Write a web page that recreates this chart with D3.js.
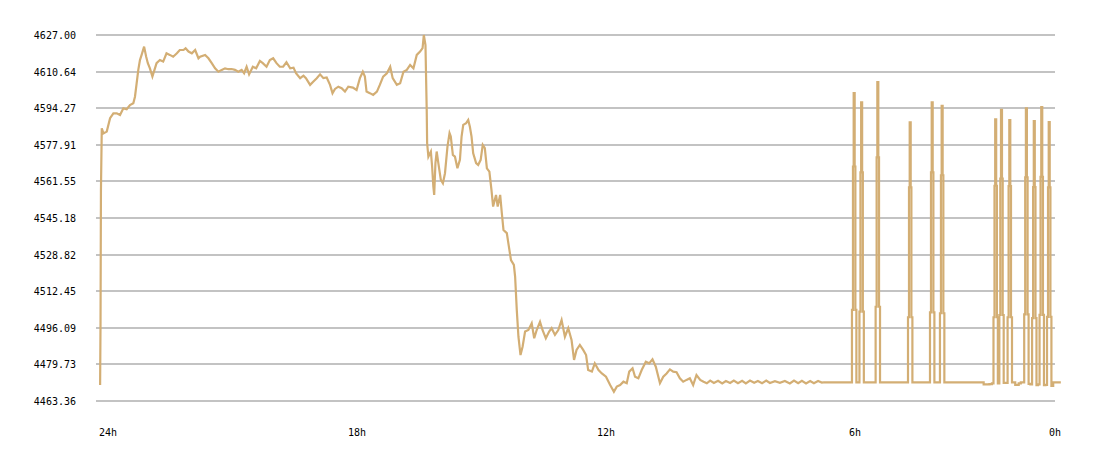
<!DOCTYPE html>
<html>
<head>
  <meta charset="UTF-8">
  <title>24h price</title>
  <script src="https://d3js.org/d3.v7.min.js"></script>
  <style>
    body { margin: 0; background: #fff; }
    text { font-family: "DejaVu Sans Mono", monospace; font-size: 10px; fill: #000; }
  </style>
</head>
<body>
    <svg></svg>

    <script>
        // y ticks as shown on the left
        let yTicks = [4463.36, 4479.73, 4496.09, 4512.45, 4528.82, 4545.18, 4561.55, 4577.91, 4594.27, 4610.64, 4627.00];

        // x ticks: hours ago
        let xTickHours = [24, 18, 12, 6, 0];
        let xTickLabels = ["24h", "18h", "12h", "6h", "0h"];

        // [hours ago, price] - active trading part
        let priceTrace = [
            [24.19, 4470.5], [24.18, 4498.7], [24.17, 4557.7], [24.15, 4585.3], [24.11, 4583.0], [24.03, 4583.8],
            [23.95, 4589.8], [23.87, 4592.0], [23.79, 4592.0], [23.71, 4591.2], [23.63, 4594.2], [23.55, 4593.8],
            [23.47, 4595.7], [23.39, 4596.5], [23.35, 4599.4], [23.31, 4605.4], [23.27, 4611.4], [23.23, 4615.8],
            [23.19, 4618.1], [23.13, 4621.8], [23.08, 4617.3], [23.04, 4614.4], [22.99, 4612.1], [22.93, 4608.4],
            [22.88, 4611.4], [22.83, 4614.4], [22.75, 4615.8], [22.67, 4615.1], [22.59, 4618.8], [22.51, 4618.1],
            [22.43, 4617.3], [22.34, 4618.8], [22.27, 4620.3], [22.18, 4620.3], [22.13, 4621.1], [22.06, 4619.6],
            [21.98, 4618.8], [21.90, 4620.3], [21.82, 4616.6], [21.78, 4617.3], [21.66, 4618.1], [21.58, 4616.6],
            [21.50, 4614.4], [21.42, 4612.1], [21.34, 4610.6], [21.26, 4611.4], [21.18, 4612.1], [21.10, 4611.7],
            [21.02, 4611.8], [20.94, 4611.4], [20.86, 4610.6], [20.78, 4611.4], [20.72, 4609.9], [20.66, 4612.8],
            [20.60, 4609.4], [20.51, 4612.8], [20.43, 4612.1], [20.34, 4615.4], [20.27, 4614.4], [20.18, 4612.8],
            [20.10, 4615.8], [20.02, 4616.6], [19.94, 4614.4], [19.86, 4612.8], [19.78, 4612.8], [19.70, 4614.8],
            [19.61, 4612.1], [19.53, 4612.4], [19.47, 4609.9], [19.37, 4607.7], [19.29, 4608.8], [19.23, 4607.7],
            [19.13, 4604.7], [19.05, 4606.2], [18.97, 4607.7], [18.89, 4609.4], [18.81, 4607.7], [18.73, 4608.0],
            [18.65, 4604.7], [18.59, 4601.0], [18.53, 4602.9], [18.45, 4603.9], [18.37, 4603.2], [18.29, 4601.7],
            [18.21, 4603.9], [18.10, 4603.5], [18.01, 4602.4], [17.93, 4607.7], [17.86, 4610.6], [17.81, 4608.4],
            [17.77, 4601.7], [17.69, 4601.0], [17.61, 4600.2], [17.52, 4601.7], [17.45, 4604.7], [17.37, 4608.4],
            [17.28, 4609.9], [17.20, 4612.8], [17.14, 4607.7], [17.04, 4604.7], [16.96, 4605.4], [16.88, 4610.6],
            [16.80, 4611.4], [16.72, 4613.6], [16.64, 4612.1], [16.56, 4618.1], [16.48, 4619.6], [16.42, 4621.1],
            [16.39, 4627.0], [16.35, 4622.5], [16.335, 4607.7], [16.32, 4593.5], [16.31, 4578.6], [16.28, 4572.6],
            [16.22, 4574.9], [16.19, 4568.2], [16.16, 4559.2], [16.14, 4555.5], [16.11, 4569.7], [16.08, 4574.9],
            [16.04, 4569.7], [15.98, 4562.2], [15.93, 4560.7], [15.88, 4565.2], [15.82, 4577.1], [15.77, 4583.1],
            [15.74, 4581.6], [15.69, 4573.4], [15.64, 4572.6], [15.58, 4567.4], [15.52, 4571.2], [15.48, 4581.6],
            [15.44, 4586.8], [15.37, 4587.6], [15.32, 4589.0], [15.28, 4586.0], [15.24, 4581.6], [15.20, 4574.1],
            [15.13, 4569.7], [15.08, 4568.9], [15.02, 4571.2], [14.97, 4577.9], [14.92, 4576.4], [14.87, 4567.4],
            [14.81, 4565.9], [14.76, 4557.7], [14.72, 4550.3], [14.65, 4555.5], [14.61, 4550.3], [14.55, 4555.5],
            [14.51, 4547.3], [14.47, 4539.8], [14.39, 4538.4], [14.34, 4532.4], [14.29, 4526.4], [14.22, 4524.2],
            [14.19, 4519.0], [14.15, 4504.1], [14.11, 4492.1], [14.06, 4483.9], [14.01, 4487.6], [13.95, 4494.4],
            [13.87, 4495.1], [13.79, 4498.1], [13.73, 4491.4], [13.67, 4495.1], [13.59, 4498.8], [13.53, 4495.1],
            [13.45, 4491.4], [13.37, 4494.4], [13.31, 4495.9], [13.23, 4492.9], [13.15, 4495.1], [13.07, 4499.6],
            [12.99, 4492.1], [12.91, 4495.9], [12.83, 4490.6], [12.77, 4481.7], [12.71, 4486.2], [12.63, 4488.4],
            [12.55, 4486.2], [12.48, 4483.9], [12.43, 4477.2], [12.34, 4476.5], [12.27, 4480.2], [12.18, 4477.2],
            [12.10, 4475.7], [12.00, 4474.2], [11.90, 4470.5], [11.81, 4467.5], [11.74, 4469.8], [11.66, 4470.5],
            [11.58, 4472.0], [11.50, 4471.3], [11.44, 4476.5], [11.36, 4478.0], [11.30, 4474.2], [11.22, 4473.5],
            [11.14, 4477.2], [11.04, 4480.9], [10.96, 4480.2], [10.88, 4482.0], [10.80, 4478.7], [10.70, 4471.3],
            [10.62, 4474.2], [10.54, 4475.7], [10.46, 4477.5], [10.38, 4476.5], [10.30, 4476.2], [10.22, 4473.5],
            [10.14, 4472.0], [10.06, 4472.8], [9.98, 4473.5], [9.90, 4470.5], [9.82, 4475.0], [9.73, 4472.8],
            [9.65, 4472.0]
        ];

        // quiet stretch before the spikes
        let quietTrace = [
            [9.57, 4471.3], [9.49, 4472.5], [9.40, 4471.4], [9.30, 4472.4], [9.20, 4471.2], [9.11, 4472.3],
            [9.01, 4471.4], [8.92, 4472.5], [8.82, 4471.3], [8.72, 4472.4], [8.63, 4471.2], [8.53, 4472.5],
            [8.43, 4471.5], [8.34, 4472.3], [8.24, 4471.3], [8.14, 4472.5], [8.05, 4471.4], [7.93, 4472.2],
            [7.81, 4471.5], [7.69, 4472.3], [7.57, 4471.2], [7.47, 4472.5], [7.37, 4471.3], [7.28, 4472.4],
            [7.18, 4471.2], [7.08, 4472.3], [6.99, 4471.3], [6.89, 4472.3], [6.80, 4471.6], [6.77, 4471.7]
        ];

        // last hours with the spikes (drawn as steps)
        let spikeTrace = [
            [6.77, 4471.7],
            [6.092, 4471.7], [6.054, 4504.1], [6.044, 4568.2], [6.02, 4601.0], [5.996, 4568.2], [5.986, 4504.1], [5.948, 4471.7],
            [5.912, 4471.7], [5.874, 4503.3], [5.864, 4565.6], [5.84, 4596.9], [5.816, 4565.6], [5.806, 4503.3], [5.768, 4471.7],
            [5.522, 4471.7], [5.484, 4505.5], [5.474, 4572.3], [5.45, 4605.9], [5.426, 4572.3], [5.416, 4505.5], [5.378, 4471.7],
            [4.742, 4471.7], [4.704, 4500.8], [4.694, 4558.9], [4.67, 4588.0], [4.646, 4558.9], [4.636, 4500.8], [4.598, 4471.7],
            [4.212, 4471.7], [4.174, 4503.0], [4.164, 4565.6], [4.14, 4596.9], [4.116, 4565.6], [4.106, 4503.0], [4.068, 4471.7],
            [3.972, 4471.7], [3.934, 4502.6], [3.924, 4564.3], [3.90, 4595.3], [3.876, 4564.3], [3.866, 4502.6], [3.828, 4471.7],
            [3.00, 4471.7], [2.80, 4470.8], [2.72, 4470.9],
            [2.682, 4471.2], [2.644, 4500.8], [2.634, 4559.6], [2.61, 4589.3], [2.586, 4559.6], [2.576, 4500.8],
            [2.54, 4471.2],
            [2.504, 4501.8], [2.494, 4562.8], [2.47, 4593.5], [2.446, 4562.8], [2.436, 4501.8], [2.398, 4471.5],
            [2.342, 4471.5], [2.304, 4500.8], [2.294, 4559.4], [2.27, 4589.0], [2.246, 4559.4], [2.236, 4500.8], [2.198, 4471.7],
            [2.08, 4470.6], [2.03, 4471.2], [1.98, 4471.7],
            [1.942, 4471.7], [1.904, 4502.1], [1.894, 4563.4], [1.87, 4594.2], [1.846, 4563.4], [1.836, 4502.1], [1.798, 4471.0],
            [1.752, 4470.8], [1.714, 4500.4], [1.704, 4559.0], [1.68, 4588.5], [1.656, 4559.0], [1.646, 4500.4], [1.608, 4470.5],
            [1.572, 4470.8], [1.534, 4501.9], [1.524, 4563.6], [1.50, 4594.8], [1.476, 4563.6], [1.466, 4501.9], [1.428, 4470.5],
            [1.392, 4470.6], [1.354, 4501.0], [1.344, 4558.9], [1.32, 4588.1], [1.296, 4558.9], [1.286, 4501.0], [1.248, 4470.1],
            [1.20, 4471.7], [1.04, 4471.7]
        ];

        let width = 1100, height = 458;
        let gridLeft = 96, gridRight = 1055;
        let lineColor = "#d3ae74";

        let svg = d3.select("svg")
            .attr("width", width)
            .attr("height", height);

        let x = d3.scaleLinear()
            .domain([24, 0])
            .range([108, 1104]);

        let y = d3.scaleLinear()
            .domain([yTicks[0], yTicks[yTicks.length - 1]])
            .range([401, 35]);

        // horizontal grid
        svg.append("g")
            .attr("id", "grid")
            .selectAll("line")
            .data(yTicks)
            .enter()
            .append("line")
            .attr("x1", gridLeft)
            .attr("x2", gridRight)
            .attr("y1", d => Math.round(y(d)))
            .attr("y2", d => Math.round(y(d)))
            .attr("stroke", "#c3c3c3")
            .attr("stroke-width", 2)
            .attr("shape-rendering", "crispEdges");

        // y labels
        svg.append("g")
            .attr("id", "ylabels")
            .selectAll("text")
            .data(yTicks)
            .enter()
            .append("text")
            .attr("x", 76)
            .attr("y", d => y(d) + 4)
            .attr("text-anchor", "end")
            .text(d => d.toFixed(2));

        // x labels (last one kept inside the grid)
        svg.append("g")
            .attr("id", "xlabels")
            .selectAll("text")
            .data(xTickHours)
            .enter()
            .append("text")
            .attr("x", d => Math.min(x(d), gridRight))
            .attr("y", 436)
            .attr("text-anchor", "middle")
            .text((d, i) => xTickLabels[i]);

        let line = d3.line()
            .x(d => x(d[0]))
            .y(d => y(d[1]));

        let stepLine = d3.line()
            .curve(d3.curveStep)
            .x(d => x(d[0]))
            .y(d => y(d[1]));

        svg.append("path")
            .datum(priceTrace.concat(quietTrace))
            .attr("fill", "none")
            .attr("stroke", lineColor)
            .attr("stroke-width", 2.2)
            .attr("d", line);

        svg.append("path")
            .datum(spikeTrace)
            .attr("fill", "none")
            .attr("stroke", lineColor)
            .attr("stroke-width", 2.2)
            .attr("d", stepLine);
    </script>

</body>
</html>
